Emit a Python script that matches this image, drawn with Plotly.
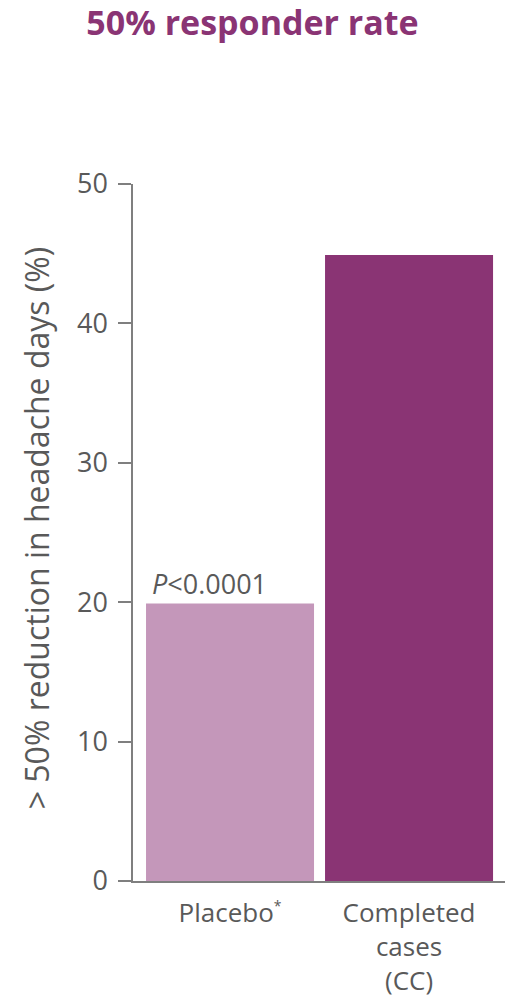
import plotly.graph_objects as go

categories = ["Placebo<sup><span style='font-size:14px'>*</span></sup>", "Completed<br>cases<br>(CC)"]
values = [19.9, 44.9]
bar_colors = ["#C497BA", "#8A3474"]
y_ticks = [0, 10, 20, 30, 40, 50]
p_label = "<i>P</i><0.0001"

gray = "#595959"
font_family = "Open Sans, Noto Sans, sans-serif"

x_pos = list(range(len(categories)))
bar_width = 0.9385

fig = go.Figure()
fig.add_trace(go.Bar(
    x=x_pos, y=values, width=bar_width,
    marker=dict(color=bar_colors, line=dict(width=0)),
    hoverinfo="skip",
))

fig.add_annotation(
    x=x_pos[0] - bar_width / 2, y=values[0], xref="x", yref="y",
    text=p_label, showarrow=False, xanchor="left", yanchor="bottom",
    xshift=4, yshift=0,
    font=dict(family=font_family, size=27, color=gray),
)

fig.add_annotation(
    text="> 50% reduction in headache days (%)",
    xref="paper", yref="paper", x=0, y=0.506, xshift=-97,
    textangle=-90, showarrow=False, xanchor="center", yanchor="middle",
    font=dict(family=font_family, size=32, color=gray),
)

fig.update_layout(
    width=505, height=998,
    margin=dict(l=133, r=0, t=184, b=114),
    paper_bgcolor="white", plot_bgcolor="white",
    showlegend=False,
    title=dict(
        text="<b>50% responder rate</b>",
        x=0.5, xref="container", xanchor="center",
        y=1 - 23 / 998, yref="container", yanchor="middle",
        font=dict(family=font_family, size=34, color="#8A3474"),
    ),
    xaxis=dict(
        range=[-0.542, 1.536],
        tickvals=x_pos, ticktext=categories,
        showline=True, linecolor="#7F7F7F", linewidth=1.5,
        ticks="", showgrid=False, zeroline=False,
        tickfont=dict(family=font_family, size=26, color=gray),
        ticklabelstandoff=8,
        fixedrange=True,
    ),
    yaxis=dict(
        range=[0, 50], tickvals=y_ticks,
        showline=True, linecolor="#7F7F7F", linewidth=1.5,
        ticks="outside", ticklen=13, tickcolor="#7F7F7F", tickwidth=1.5,
        showgrid=False, zeroline=False,
        tickfont=dict(family=font_family, size=27, color=gray),
        ticklabelstandoff=5,
        fixedrange=True,
    ),
)

fig.write_html(
    "out.html",
    config={"displayModeBar": False},
    post_script="document.body.style.margin='0';document.body.style.padding='0';",
)
